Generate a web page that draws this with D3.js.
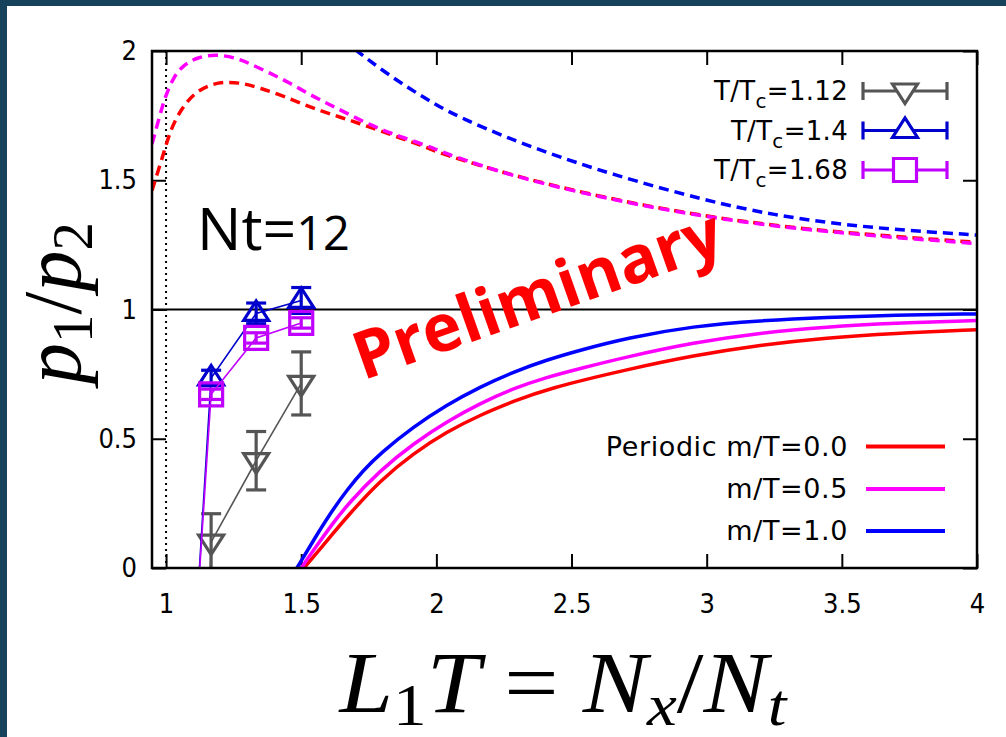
<!DOCTYPE html>
<html>
<head>
<meta charset="utf-8">
<script src="https://cdn.jsdelivr.net/npm/d3@7"></script>
<style>
  body { margin: 0; background: #fff; }
  svg { display: block; }
</style>
</head>
<body>
<svg id="chart" width="1006" height="737"></svg>
<script>
// ---- data ----
const xTicks = [1, 1.5, 2, 2.5, 3, 3.5, 4];
const yTicks = [0, 0.5, 1, 1.5, 2];

// lattice points L1T = Nx/Nt with Nt = 12
const latticeX = [1.0, 1.1667, 1.3333, 1.5];
const ratio112 = [-5.0, 0.100, 0.415, 0.714];
const err112   = [0.30, 0.110, 0.113, 0.122];
const ratio140 = [-2.1, 0.735, 0.985, 1.035];
const err140   = [0.20, 0.030, 0.040, 0.050];
const ratio168 = [-2.0, 0.672, 0.890, 0.948];
const err168   = [0.20, 0.020, 0.020, 0.020];
const dataLabels = ['1.12', '1.4', '1.68'];

// free-field curves, solid (periodic) and dashed
const solidM00 = [[1.51,0],[1.608,0.121],[1.669,0.198],[1.793,0.34],[1.916,0.444],[2.038,0.527],[2.162,0.592],[2.286,0.645],[2.408,0.693],[2.705,0.768],[2.951,0.822],[3.198,0.863],[3.444,0.891],[3.691,0.908],[4.0,0.922]];
const solidM05 = [[1.50,0],[1.546,0.07],[1.608,0.16],[1.669,0.244],[1.793,0.379],[1.916,0.482],[2.038,0.566],[2.162,0.637],[2.286,0.695],[2.408,0.738],[2.532,0.772],[2.705,0.817],[2.951,0.872],[3.198,0.91],[3.444,0.933],[3.691,0.947],[4.0,0.957]];
const solidM10 = [[1.484,0],[1.546,0.108],[1.608,0.212],[1.669,0.302],[1.731,0.379],[1.793,0.444],[1.916,0.547],[2.038,0.631],[2.162,0.701],[2.286,0.759],[2.408,0.805],[2.532,0.843],[2.705,0.89],[2.951,0.936],[3.198,0.957],[3.444,0.970],[3.691,0.978],[4.0,0.983]];
const dashM00 = [[0.948,1.46],[0.991,1.604],[1.016,1.694],[1.053,1.771],[1.102,1.836],[1.164,1.872],[1.226,1.881],[1.287,1.875],[1.349,1.856],[1.423,1.83],[1.497,1.798],[1.571,1.769],[1.645,1.744],[1.719,1.718],[1.793,1.692],[1.867,1.663],[1.941,1.637],[2.015,1.603],[2.27,1.522],[2.52,1.457],[2.77,1.402],[3.02,1.357],[3.27,1.322],[3.52,1.297],[3.75,1.278],[4.0,1.26]];
const dashM05 = [[0.948,1.64],[0.979,1.759],[0.997,1.823],[1.028,1.901],[1.065,1.946],[1.115,1.976],[1.189,1.988],[1.263,1.972],[1.312,1.95],[1.386,1.914],[1.46,1.875],[1.534,1.83],[1.608,1.791],[1.682,1.752],[1.756,1.714],[1.83,1.682],[1.903,1.656],[1.99,1.624],[2.051,1.597],[2.27,1.52],[2.52,1.455],[2.77,1.4],[3.02,1.355],[3.27,1.32],[3.52,1.294],[3.75,1.274],[4.0,1.255]];
const dashM10 = [[1.70,2.005],[1.80,1.925],[1.90,1.855],[2.0,1.79],[2.1,1.737],[2.25,1.67],[2.4,1.61],[2.64,1.525],[3.0,1.42],[3.25,1.365],[3.5,1.328],[3.75,1.305],[4.0,1.288]];
const curveLabels = ['Periodic m/T=0.0', 'm/T=0.5', 'm/T=1.0'];

// ---- layout ----
const svg = d3.select('#chart');
const plot = { left: 152, right: 977, top: 51, bottom: 568 };

const x = d3.scaleLinear().domain([0.948, 4]).range([plot.left, plot.right]);
const y = d3.scaleLinear().domain([0, 2]).range([plot.bottom, plot.top]);

// slide frame
svg.append('rect').attr('x', 0).attr('y', 0).attr('width', 1006).attr('height', 6).attr('fill', '#16435b');
svg.append('rect').attr('x', 0).attr('y', 0).attr('width', 7).attr('height', 737).attr('fill', '#16435b');

svg.append('clipPath').attr('id', 'clip')
  .append('rect')
  .attr('x', plot.left).attr('y', plot.top)
  .attr('width', plot.right - plot.left).attr('height', plot.bottom - plot.top);

// axes, gnuplot style: ticks pointing inward on all four sides
const tickFont = '"DejaVu Sans Condensed", "Liberation Sans Narrow", sans-serif';

svg.append('g')
  .attr('transform', 'translate(0,' + plot.bottom + ')')
  .call(d3.axisBottom(x).tickValues(xTicks).tickSizeInner(-14).tickSizeOuter(0).tickPadding(26).tickFormat(d3.format('')))
  .call(g => g.select('.domain').remove());

svg.append('g')
  .attr('transform', 'translate(0,' + plot.top + ')')
  .call(d3.axisTop(x).tickValues(xTicks).tickSizeInner(-14).tickSizeOuter(0).tickFormat(''))
  .call(g => g.select('.domain').remove());

svg.append('g')
  .attr('transform', 'translate(' + plot.left + ',0)')
  .call(d3.axisLeft(y).tickValues(yTicks).tickSizeInner(-14).tickSizeOuter(0).tickPadding(15).tickFormat(d3.format('')))
  .call(g => g.select('.domain').remove());

svg.append('g')
  .attr('transform', 'translate(' + plot.right + ',0)')
  .call(d3.axisRight(y).tickValues(yTicks).tickSizeInner(-14).tickSizeOuter(0).tickFormat(''))
  .call(g => g.select('.domain').remove());

svg.selectAll('.tick line').attr('stroke', '#000').attr('stroke-width', 2);
svg.selectAll('.tick text').attr('fill', '#000').style('font-family', tickFont).style('font-size', '27px');

// reference lines
svg.append('line')
  .attr('x1', x(1)).attr('x2', x(1)).attr('y1', plot.top).attr('y2', plot.bottom)
  .attr('stroke', '#000').attr('stroke-width', 2).attr('stroke-dasharray', '2,4');
svg.append('line')
  .attr('x1', plot.left).attr('x2', plot.right).attr('y1', y(1)).attr('y2', y(1))
  .attr('stroke', '#000').attr('stroke-width', 1.8);

// curves
const line = d3.line()
  .x(d => x(d[0]))
  .y(d => y(d[1]))
  .curve(d3.curveBasis);

const curves = svg.append('g').attr('clip-path', 'url(#clip)');
const curveColors = ['#ff0000', '#ff00ff', '#0000ff'];

[dashM00, dashM05, dashM10].forEach((c, i) => {
  curves.append('path')
    .attr('d', line(c))
    .attr('fill', 'none')
    .attr('stroke', curveColors[i])
    .attr('stroke-width', 3.5)
    .attr('stroke-dasharray', '10,6');
});
[solidM00, solidM05, solidM10].forEach((c, i) => {
  curves.append('path')
    .attr('d', line(c))
    .attr('fill', 'none')
    .attr('stroke', curveColors[i])
    .attr('stroke-width', 3.5);
});

// lattice data
function marker(type) {
  if (type == 'down') return 'M-12.5,-7L12.5,-7L0,12.5Z';
  if (type == 'up') return 'M-12.5,7L12.5,7L0,-12.5Z';
  return 'M-11.5,-11.5h23v23h-23Z';
}

const series = [
  { vals: ratio112, errs: err112, color: '#555555', sym: 'down' },
  { vals: ratio140, errs: err140, color: '#0000cc', sym: 'up' },
  { vals: ratio168, errs: err168, color: '#c000ff', sym: 'square' }
];

const dataG = svg.append('g').attr('clip-path', 'url(#clip)');
series.forEach(s => {
  const pts = latticeX.map((lx, i) => ({ x: lx, y: s.vals[i], e: s.errs[i] }));
  const g = dataG.append('g');

  g.append('path')
    .attr('d', d3.line().x(d => x(d.x)).y(d => y(d.y))(pts))
    .attr('fill', 'none')
    .attr('stroke', s.color)
    .attr('stroke-width', 1.6);

  const bars = g.selectAll('.bar').data(pts).enter().append('g');
  bars.append('line')
    .attr('x1', d => x(d.x)).attr('x2', d => x(d.x))
    .attr('y1', d => y(d.y - d.e)).attr('y2', d => y(d.y + d.e))
    .attr('stroke', s.color).attr('stroke-width', 3.2);
  bars.append('line')
    .attr('x1', d => x(d.x) - 10).attr('x2', d => x(d.x) + 10)
    .attr('y1', d => y(d.y + d.e)).attr('y2', d => y(d.y + d.e))
    .attr('stroke', s.color).attr('stroke-width', 3.2);
  bars.append('line')
    .attr('x1', d => x(d.x) - 10).attr('x2', d => x(d.x) + 10)
    .attr('y1', d => y(d.y - d.e)).attr('y2', d => y(d.y - d.e))
    .attr('stroke', s.color).attr('stroke-width', 3.2);

  g.selectAll('.pt').data(pts).enter().append('path')
    .attr('transform', d => 'translate(' + x(d.x) + ',' + y(d.y) + ')')
    .attr('d', marker(s.sym))
    .attr('fill', 'none')
    .attr('stroke', s.color)
    .attr('stroke-width', 3.2);
});

// frame
svg.append('rect')
  .attr('x', plot.left).attr('y', plot.top)
  .attr('width', plot.right - plot.left).attr('height', plot.bottom - plot.top)
  .attr('fill', 'none').attr('stroke', '#000').attr('stroke-width', 2.5);

// legend: lattice data
const legFont = '"DejaVu Sans", Verdana, sans-serif';
const legRowsTop = [91, 130.5, 170];
series.forEach((s, i) => {
  const ly = legRowsTop[i];
  const t = svg.append('text')
    .attr('x', 848).attr('y', ly).attr('dy', '0.35em')
    .attr('text-anchor', 'end')
    .style('font-family', legFont).style('font-size', '26px').style('letter-spacing', '0.3px');
  t.append('tspan').text('T/T');
  t.append('tspan').attr('dy', 8).style('font-size', '20px').text('c');
  t.append('tspan').attr('dy', -8).text('=' + dataLabels[i]);

  svg.append('line').attr('x1', 863).attr('x2', 947).attr('y1', ly).attr('y2', ly)
    .attr('stroke', s.color).attr('stroke-width', 3.2);
  [863, 947].forEach(cx => {
    svg.append('line').attr('x1', cx).attr('x2', cx).attr('y1', ly - 9).attr('y2', ly + 9)
      .attr('stroke', s.color).attr('stroke-width', 3.2);
  });
  svg.append('path')
    .attr('transform', 'translate(905,' + ly + ')')
    .attr('d', marker(s.sym))
    .attr('fill', '#fff')
    .attr('stroke', s.color)
    .attr('stroke-width', 3.2);
});

// legend: curves
const legRowsBottom = [446.5, 489, 531];
curveLabels.forEach((lab, i) => {
  const ly = legRowsBottom[i];
  svg.append('text')
    .attr('x', 848).attr('y', ly).attr('dy', '0.35em')
    .attr('text-anchor', 'end')
    .style('font-family', legFont).style('font-size', '27px').style('letter-spacing', '0.6px')
    .text(lab);
  svg.append('line').attr('x1', 866).attr('x2', 945).attr('y1', ly).attr('y2', ly)
    .attr('stroke', curveColors[i]).attr('stroke-width', 4);
});

// annotations
const nt = svg.append('text')
  .attr('x', 197).attr('y', 250)
  .style('font-family', '"Open Sans", sans-serif').style('font-size', '59px');
nt.append('tspan').text('Nt=');
nt.append('tspan').style('font-size', '47px').text('12');

svg.append('text')
  .attr('transform', 'translate(545,316) rotate(-19.5)')
  .attr('text-anchor', 'middle')
  .attr('fill', '#ff0000')
  .style('font-family', '"Open Sans", sans-serif').style('font-weight', 'bold').style('font-size', '66px')
  .text('Preliminary');

// axis titles (math style)
const mathFont = '"Liberation Serif", "Times New Roman", serif';

const yl = svg.append('text')
  .attr('transform', 'translate(80,303) rotate(-90)')
  .attr('text-anchor', 'middle')
  .style('font-family', mathFont).style('font-size', '82px');
yl.append('tspan').style('font-style', 'italic').text('p');
yl.append('tspan').attr('dy', 12).style('font-size', '57px').text('1');
yl.append('tspan').attr('dy', -12).text('/');
yl.append('tspan').style('font-style', 'italic').text('p');
yl.append('tspan').attr('dy', 12).style('font-size', '57px').text('2');

const xl = svg.append('text')
  .attr('transform', 'translate(563,712) scale(1.12,1)')
  .attr('text-anchor', 'middle')
  .style('font-family', mathFont).style('font-size', '86px');
xl.append('tspan').style('font-style', 'italic').text('L');
xl.append('tspan').attr('dy', 13).style('font-size', '60px').text('1');
xl.append('tspan').attr('dy', -13).style('font-style', 'italic').text('T');
xl.append('tspan').text(' = ');
xl.append('tspan').style('font-style', 'italic').text('N');
xl.append('tspan').attr('dy', 13).style('font-size', '60px').style('font-style', 'italic').text('x');
xl.append('tspan').attr('dy', -13).text('/');
xl.append('tspan').style('font-style', 'italic').text('N');
xl.append('tspan').attr('dy', 13).style('font-size', '60px').style('font-style', 'italic').text('t');
</script>
</body>
</html>
